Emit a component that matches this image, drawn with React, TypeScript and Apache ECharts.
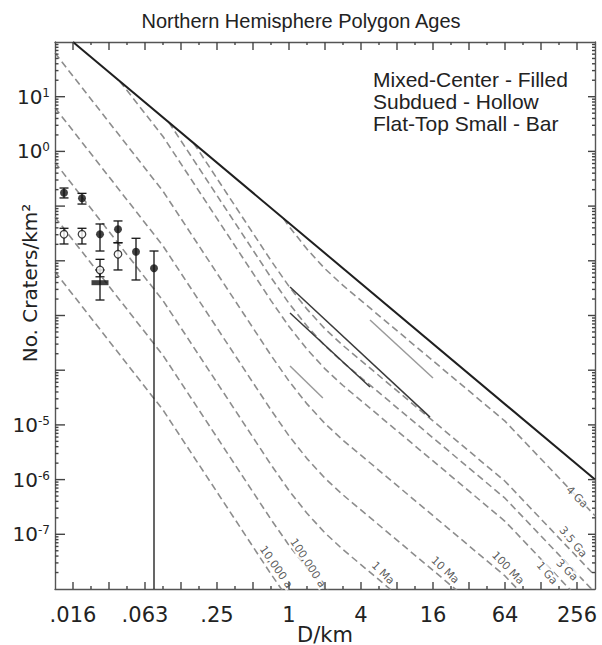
import React, { useEffect, useRef } from "react";
import * as echarts from "echarts";

// ---------- axes ----------
const xTickD = [1 / 64, 1 / 16, 1 / 4, 1, 4, 16, 64, 256];
const xTickText = [".016", ".063", ".25", "1", "4", "16", "64", "256"];
const yTickExp = [1, 0, -5, -6, -7];
const D_MIN = 0.011049; // 2^-6.5 km
const D_MAX = 362.04; // 2^8.5 km
const N_MIN = 1e-8;
const N_MAX = 1e2;

// ---------- saturation line ----------
const satD = [0.015625, 362.04];
const satN = [100, 1e-6];

// ---------- isochrons (D km, N per km²) ----------
const iso10kaD = [0.01105, 0.08839, 0.7071, 1];
const iso10kaN = [6.28e-3, 1.871e-5, 1.871e-8, 6.31e-9];
const iso100kaD = [0.01105, 0.08839, 0.7071, 1, 1.414, 2, 2.828];
const iso100kaN = [6.28e-2, 1.871e-4, 1.871e-7, 6.31e-8, 2.42e-8, 1.057e-8, 5.25e-9];
const iso1MaD = [0.01105, 0.08839, 0.7071, 1, 1.414, 2, 2.828, 64];
const iso1MaN = [0.628, 1.871e-3, 1.871e-6, 6.31e-7, 2.42e-7, 1.057e-7, 5.25e-8, 1.73e-10];
const iso10MaD = [0.01105, 0.08839, 0.7071, 1, 1.414, 2, 2.828, 64];
const iso10MaN = [6.28, 1.871e-2, 1.871e-5, 6.31e-6, 2.42e-6, 1.057e-6, 5.25e-7, 1.73e-9];
const iso100MaD = [0.01105, 0.08839, 0.7071, 1, 1.414, 2, 2.828, 64, 362.04];
const iso100MaN = [62.8, 0.1871, 1.871e-4, 6.31e-5, 2.42e-5, 1.057e-5, 5.25e-6, 1.73e-8, 3.24e-10];
const iso1GaD = [0.03842, 0.08839, 0.7071, 1, 1.414, 2, 2.828, 64, 362.04];
const iso1GaN = [19.23, 1.871, 1.871e-3, 6.31e-4, 2.42e-4, 1.057e-4, 5.25e-5, 1.73e-7, 3.24e-9];
const iso3GaD = [0.09896, 0.7071, 1, 1.414, 2, 2.828, 64, 362.04];
const iso3GaN = [3.396, 4.943e-3, 1.667e-3, 6.4e-4, 2.79e-4, 1.387e-4, 4.57e-7, 8.55e-9];
const iso35GaD = [0.1598, 0.7071, 1, 1.414, 2, 2.828, 64, 362.04];
const iso35GaN = [1.413, 1.009e-2, 3.4e-3, 1.306e-3, 5.7e-4, 2.83e-4, 9.33e-7, 1.746e-8];
const iso4GaD = [0.8993, 1, 1.414, 2, 2.828, 64, 362.04];
const iso4GaN = [5.94e-2, 4.27e-2, 1.637e-2, 7.14e-3, 3.548e-3, 1.17e-5, 2.19e-7];

const isoLabelText = ["10,000 a", "100,000 a", "1 Ma", "10 Ma", "100 Ma", "1 Ga", "3 Ga", "3.5 Ga", "4 Ga"];
const isoLabelD = [0.779, 1.44, 6.11, 20.2, 67.8, 143.7, 211, 237, 256];
const isoLabelN = [2.52e-8, 2.98e-8, 1.96e-8, 2.22e-8, 2.42e-8, 1.96e-8, 2.22e-8, 7.24e-8, 4.8e-7];
const isoLabelAngle = [-55, -57, -45, -43, -46, -50, -45, -50, -45];

// ---------- solid short segments ----------
const segDarkAD = [1.02, 15.1];
const segDarkAN = [3.32e-3, 1.39e-5];
const segDarkBD = [1.02, 4.76];
const segDarkBN = [1.11e-3, 4.93e-5];
const segGrayAD = [4.76, 16.0];
const segGrayAN = [8.28e-4, 7.2e-5];
const segGrayBD = [1.02, 1.92];
const segGrayBN = [1.19e-4, 3.1e-5];

// ---------- crater counts ----------
const mixedD = [0.01314, 0.01858, 0.02628, 0.03716, 0.05256, 0.07433];
const mixedN = [0.176, 0.139, 0.0305, 0.0377, 0.01466, 0.0073];
const mixedLo = [0.141, 0.109, 0.0151, 0.0214, 0.00446, 1e-8];
const mixedHi = [0.214, 0.171, 0.0471, 0.0535, 0.0258, 0.0151];

const subduedD = [0.01314, 0.01858, 0.02628, 0.03716];
const subduedN = [0.0305, 0.0305, 0.00679, 0.01315];
const subduedLo = [0.0203, 0.0203, 0.0051, 0.0068];
const subduedHi = [0.0393, 0.0393, 0.01064, 0.0214];

const flatD = [0.02628];
const flatN = [0.00398];
const flatLo = [0.00192];
const flatHi = [0.0068];

const legendLines = ["Mixed-Center - Filled", "Subdued - Hollow", "Flat-Top Small - Bar"];

// ---------- helpers ----------
const lx = (d: number) => Math.log2(d);
const ly = (n: number) => Math.log10(n);
const pts = (D: number[], N: number[]) => D.map((d, i) => [lx(d), ly(N[i])]);

const AXIS_COLOR = "#555";
const TEXT_COLOR = "#222";
const TICK_FONT = "DejaVu Sans";

const X_MIN = lx(D_MIN);
const X_MAX = lx(D_MAX);
const Y_MIN = ly(N_MIN);
const Y_MAX = ly(N_MAX);

function buildOption() {
  const lineStyle = { color: AXIS_COLOR, width: 1.4 };
  const xLabelVals = xTickD.map(lx);

  const xAxis = [
    {
      type: "value",
      position: "bottom",
      min: X_MIN,
      max: X_MAX,
      splitLine: { show: false },
      axisLine: { show: true, onZero: false, lineStyle },
      axisTick: { show: false },
      axisLabel: {
        show: true,
        customValues: xLabelVals,
        margin: 15,
        fontSize: 21,
        fontFamily: TICK_FONT,
        color: TEXT_COLOR,
        formatter: (v: number) => {
          const i = xLabelVals.findIndex((t) => Math.abs(t - v) < 1e-6);
          return i >= 0 ? xTickText[i] : "";
        },
      },
      name: "D/km",
      nameLocation: "middle",
      nameGap: 35,
      nameMoveOverlap: false,
      nameTextStyle: { fontSize: 21, fontFamily: TICK_FONT, color: TEXT_COLOR },
    },
    {
      type: "value",
      position: "top",
      min: X_MIN,
      max: X_MAX,
      splitLine: { show: false },
      axisLine: { show: true, onZero: false, lineStyle },
      axisTick: { show: false },
      axisLabel: { show: false },
    },
  ];

  const yAxis = [
    {
      type: "value",
      position: "left",
      min: Y_MIN,
      max: Y_MAX,
      splitLine: { show: false },
      axisLine: { show: true, onZero: false, lineStyle },
      axisTick: { show: false },
      axisLabel: {
        show: true,
        customValues: yTickExp,
        margin: 5,
        formatter: (v: number) => `{b|10}{s|${Math.round(v)}}`,
        rich: {
          b: { fontSize: 20, fontFamily: TICK_FONT, color: TEXT_COLOR },
          s: { fontSize: 12, fontFamily: TICK_FONT, color: TEXT_COLOR, verticalAlign: "top" },
        },
      },
    },
    {
      type: "value",
      position: "right",
      min: Y_MIN,
      max: Y_MAX,
      splitLine: { show: false },
      axisLine: { show: true, onZero: false, lineStyle },
      axisTick: { show: false },
      axisLabel: { show: false },
    },
  ];

  const isoList = [
    [iso10kaD, iso10kaN],
    [iso100kaD, iso100kaN],
    [iso1MaD, iso1MaN],
    [iso10MaD, iso10MaN],
    [iso100MaD, iso100MaN],
    [iso1GaD, iso1GaN],
    [iso3GaD, iso3GaN],
    [iso35GaD, iso35GaN],
    [iso4GaD, iso4GaN],
  ];

  const series: any[] = [];

  isoList.forEach(([D, N]) => {
    series.push({
      type: "line",
      data: pts(D, N),
      symbol: "none",
      silent: true,
      z: 2,
      lineStyle: { color: "#8d8d8d", width: 1.6, type: [7, 4] },
    });
  });

  series.push({
    type: "line",
    data: pts(satD, satN),
    symbol: "none",
    silent: true,
    z: 3,
    lineStyle: { color: "#1f1f1f", width: 2 },
  });

  [
    [segDarkAD, segDarkAN, "#3a3a3a"],
    [segDarkBD, segDarkBN, "#3a3a3a"],
    [segGrayAD, segGrayAN, "#9a9a9a"],
    [segGrayBD, segGrayBN, "#9a9a9a"],
  ].forEach(([D, N, c]) => {
    series.push({
      type: "line",
      data: pts(D as number[], N as number[]),
      symbol: "none",
      silent: true,
      z: 3,
      lineStyle: { color: c as string, width: 1.5 },
    });
  });

  series.push({
    type: "scatter",
    silent: true,
    z: 4,
    symbolSize: 1,
    itemStyle: { color: "rgba(0,0,0,0)" },
    data: isoLabelText.map((t, i) => ({
      value: [lx(isoLabelD[i]), ly(isoLabelN[i])],
      label: { rotate: isoLabelAngle[i], formatter: t },
    })),
    label: {
      show: true,
      position: "inside",
      fontSize: 11,
      fontFamily: TICK_FONT,
      color: "#333",
      backgroundColor: "#fff",
      padding: [0, 1],
      align: "center",
      verticalAlign: "middle",
    },
  });

  const errData: number[][] = [];
  const addErr = (D: number[], lo: number[], hi: number[]) =>
    D.forEach((d, i) => errData.push([lx(d), ly(lo[i]), ly(hi[i])]));
  addErr(mixedD, mixedLo, mixedHi);
  addErr(subduedD, subduedLo, subduedHi);
  addErr(flatD, flatLo, flatHi);

  series.push({
    type: "custom",
    z: 5,
    silent: true,
    data: errData,
    encode: { x: 0, y: 1 },
    renderItem: (params: any, api: any) => {
      const x = api.value(0);
      const lo = api.value(1);
      const hi = api.value(2);
      const pLo = api.coord([x, lo]);
      const pHi = api.coord([x, hi]);
      const hw = 4.5;
      const st = { stroke: "#151515", lineWidth: 1.3 };
      const children: any[] = [
        { type: "line", shape: { x1: pLo[0], y1: pLo[1], x2: pHi[0], y2: pHi[1] }, style: st },
        { type: "line", shape: { x1: pHi[0] - hw, y1: pHi[1], x2: pHi[0] + hw, y2: pHi[1] }, style: st },
      ];
      if (lo > Y_MIN + 1e-6) {
        children.push({ type: "line", shape: { x1: pLo[0] - hw, y1: pLo[1], x2: pLo[0] + hw, y2: pLo[1] }, style: st });
      }
      return { type: "group", children };
    },
  });

  series.push({
    type: "scatter",
    z: 6,
    silent: true,
    symbol: "circle",
    symbolSize: 8,
    itemStyle: { color: "#111" },
    data: pts(mixedD, mixedN),
  });
  series.push({
    type: "scatter",
    z: 6,
    silent: true,
    symbol: "circle",
    symbolSize: 7.5,
    itemStyle: { color: "#fff", borderColor: "#111", borderWidth: 1.3 },
    data: pts(subduedD, subduedN),
  });
  series.push({
    type: "scatter",
    z: 6,
    silent: true,
    symbol: "rect",
    symbolSize: [17, 5],
    itemStyle: { color: "#111" },
    data: pts(flatD, flatN),
  });

  return {
    animation: false,
    backgroundColor: "#fff",
    title: {
      text: "Northern Hemisphere Polygon Ages",
      left: "center",
      top: 6,
      textStyle: { fontSize: 20, fontWeight: "normal", fontFamily: "Liberation Sans", color: TEXT_COLOR },
    },
    grid: { left: 55, right: 7, top: 42, bottom: 56, containLabel: false, outerBoundsMode: "none" },
    xAxis,
    yAxis,
    series,
    graphic: [
      {
        id: "legendText",
        type: "text",
        left: 373,
        top: 68,
        silent: true,
        style: {
          text: legendLines.join("\n"),
          fontSize: 21,
          fontFamily: "Liberation Sans",
          fill: TEXT_COLOR,
          lineHeight: 22,
        },
      },
      {
        id: "yTitle",
        type: "text",
        x: 30,
        y: 283,
        rotation: Math.PI / 2,
        silent: true,
        style: {
          text: "No. Craters/km²",
          fontSize: 20,
          fontFamily: TICK_FONT,
          fill: TEXT_COLOR,
          align: "center",
          verticalAlign: "middle",
        },
      },
    ],
  };
}

// frame ticks on all four sides, placed through the chart's own coordinate conversion
function buildTicks(chart: any) {
  const toPx = (x: number, y: number) => chart.convertToPixel({ xAxisIndex: 0, yAxisIndex: 0 }, [x, y]);
  const els: any[] = [];
  const st = { stroke: "#444", lineWidth: 1.4 };
  const seg = (x1: number, y1: number, x2: number, y2: number) =>
    els.push({ type: "line", silent: true, z: 100, shape: { x1, y1, x2, y2 }, style: st });
  const xTick = (v: number, lb: number, lt: number) => {
    const b = toPx(v, Y_MIN);
    const t = toPx(v, Y_MAX);
    seg(b[0], b[1], b[0], b[1] - lb);
    seg(t[0], t[1], t[0], t[1] + lt);
  };
  const yTick = (v: number, ll: number, lr: number) => {
    const l = toPx(X_MIN, v);
    const r = toPx(X_MAX, v);
    seg(l[0], l[1], l[0] + ll, l[1]);
    seg(r[0], r[1], r[0] - lr, r[1]);
  };
  for (let k = -6; k <= 8; k++) xTick(k, 7, 8);
  for (let k = -6; k < 8; k++) xTick(k + 0.5, 3, 3);
  for (let n = -7; n <= 1; n++) yTick(n, 10, 7);
  for (let n = -8; n <= 1; n++) for (let k = 2; k <= 9; k++) yTick(n + Math.log10(k), 3.5, 3);
  return els;
}

export default function App() {
  const ref = useRef<HTMLDivElement>(null);
  useEffect(() => {
    if (!ref.current) return;
    const chart = echarts.init(ref.current, null, { renderer: "svg" });
    const option: any = buildOption();
    chart.setOption(option);
    const ticks = buildTicks(chart);
    chart.setOption({ graphic: [...option.graphic, { id: "ticks", type: "group", silent: true, children: ticks }] });
    return () => chart.dispose();
  }, []);
  return (
    <div
      ref={ref}
      style={{ position: "fixed", left: 0, top: 0, width: 602, height: 645, background: "#fff" }}
    />
  );
}
